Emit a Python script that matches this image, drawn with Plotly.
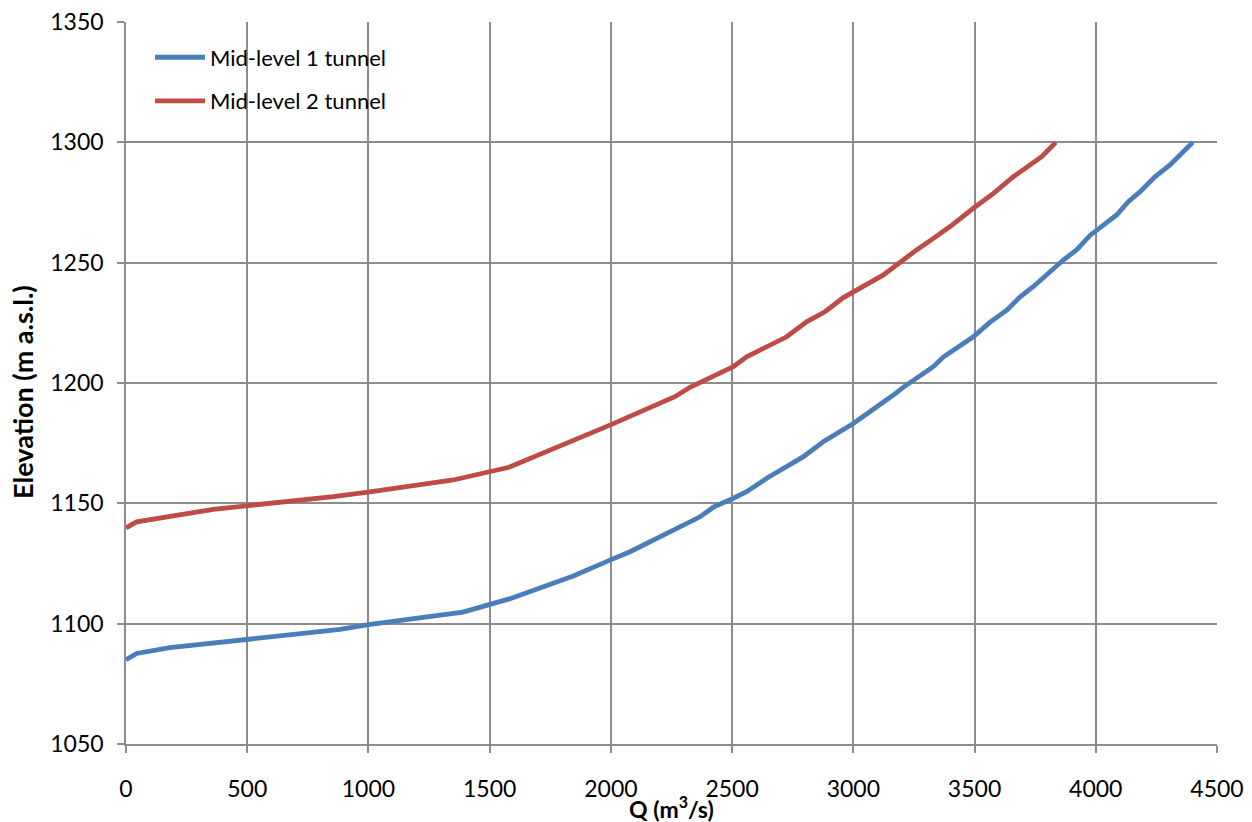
import plotly.graph_objects as go

# Mid-level 1 tunnel
q1 = [0, 44, 181, 346, 621, 883, 1000, 1390, 1584, 1845, 1996, 2079, 2368, 2423, 2505, 2560,
      2643, 2725, 2794, 2876, 2959, 3000, 3165, 3207, 3330, 3371, 3495, 3564, 3633, 3687,
      3742, 3866, 3921, 3976, 4086, 4134, 4183, 4244, 4306, 4400]
e1 = [1085, 1087.6, 1090, 1091.8, 1094.6, 1097.6, 1099.6, 1104.8, 1110.4, 1119.8, 1126.4, 1129.9,
      1144.4, 1148.4, 1152.1, 1154.8, 1160.4, 1165.2, 1169.4, 1175.6, 1180.6, 1183.2, 1195,
      1198.3, 1206.8, 1210.8, 1219.2, 1225.3, 1230.3, 1235.7, 1240, 1251.1, 1255.3, 1261.3,
      1269.8, 1275.3, 1279.5, 1285.7, 1290.6, 1300]

# Mid-level 2 tunnel
q2 = [0, 44, 360, 498, 855, 1006, 1350, 1580, 1694, 1941, 1996, 2264, 2326, 2505, 2560, 2725,
      2807, 2883, 2959, 3124, 3193, 3261, 3330, 3399, 3495, 3578, 3660, 3777, 3835]
e2 = [1139.8, 1142.3, 1147.5, 1148.9, 1152.8, 1154.8, 1159.7, 1165, 1169.7, 1179.8, 1182.5,
      1194.3, 1198.2, 1206.8, 1210.9, 1219.2, 1225.4, 1229.6, 1235.5, 1244.9, 1250.4, 1255.3,
      1260.1, 1265, 1272.6, 1278.8, 1285.7, 1294, 1300]

x_ticks = [0, 500, 1000, 1500, 2000, 2500, 3000, 3500, 4000, 4500]
y_ticks = [1050, 1100, 1150, 1200, 1250, 1300, 1350]

FONT = "Lato, Carlito, Calibri, sans-serif"
GRID = "#8c8c8c"

fig = go.Figure()
fig.add_trace(go.Scatter(x=q1, y=e1, mode="lines", name="Mid-level 1 tunnel", legendgroup="a",
                         line=dict(color="#4a7ebb", width=4.8)))
fig.add_trace(go.Scatter(x=q2, y=e2, mode="lines", name="Mid-level 2 tunnel", legendgroup="b",
                         line=dict(color="#be4b48", width=4.8)))

fig.update_layout(
    width=1252, height=822,
    margin=dict(l=126, r=35, t=22, b=78),
    paper_bgcolor="white", plot_bgcolor="white",
    font=dict(family=FONT, size=23, color="black"),
    showlegend=True,
    legend=dict(x=0.022, y=0.98, xanchor="left", yanchor="top",
                bgcolor="rgba(0,0,0,0)", font=dict(size=22),
                traceorder="grouped", tracegroupgap=12, itemwidth=50),
    xaxis=dict(range=[0, 4500], tickvals=x_ticks, showgrid=True, gridcolor=GRID, gridwidth=1.5,
               showline=True, linecolor=GRID, linewidth=1.5, mirror=False, automargin=False,
               ticks="outside", ticklen=7, tickcolor=GRID, tickwidth=1.5,
               ticklabelstandoff=17, zeroline=False),
    yaxis=dict(range=[1050, 1350], tickvals=y_ticks, showgrid=True, gridcolor=GRID, gridwidth=1.5,
               showline=True, linecolor=GRID, linewidth=1.5, automargin=False,
               ticks="outside", ticklen=7, tickcolor=GRID, tickwidth=1.5,
               ticklabelstandoff=9, zeroline=False),
    annotations=[
        dict(text="<b>Q (m<sup>3</sup>/s)</b>", xref="paper", yref="paper", x=0.5, y=0,
             xanchor="center", yanchor="middle", yshift=-63, showarrow=False,
             font=dict(size=23)),
        dict(text="<b>Elevation (m a.s.l.)</b>", xref="paper", yref="paper", x=0, y=0.5,
             xanchor="center", yanchor="middle", xshift=-104, yshift=-9, textangle=-90,
             showarrow=False, font=dict(size=27)),
    ],
)

fig.write_html("out.html", config={"displayModeBar": False},
               post_script="document.body.style.margin='0';")
